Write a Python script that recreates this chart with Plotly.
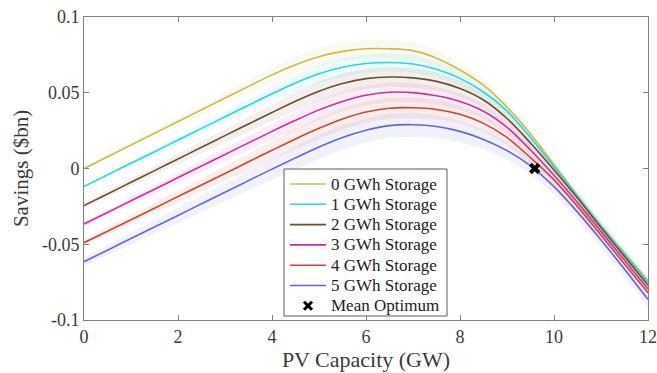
import plotly.graph_objects as go

pv_capacity = [0, 0.5, 1, 1.5, 2, 2.5, 3, 3.5, 4, 4.5, 5, 5.5, 6, 6.5, 7, 7.5, 8, 8.5, 9, 9.5, 10, 10.5, 11, 11.5, 12]

savings_0 = [0.0000, 0.0078, 0.0155, 0.0233, 0.0310, 0.0388, 0.0465, 0.0542, 0.0618, 0.0685, 0.0738, 0.0773, 0.0790,
             0.0790, 0.0778, 0.0728, 0.0650, 0.0550, 0.0405, 0.0228, 0.0025, -0.0182, -0.0380, -0.0560, -0.0740]
savings_1 = [-0.0119, -0.0042, 0.0035, 0.0111, 0.0188, 0.0265, 0.0341, 0.0418, 0.0493, 0.0565, 0.0625, 0.0668, 0.0693,
             0.0700, 0.0690, 0.0655, 0.0595, 0.0505, 0.0380, 0.0205, 0.0012, -0.0185, -0.0380, -0.0565, -0.0750]
savings_2 = [-0.0245, -0.0168, -0.0091, -0.0014, 0.0063, 0.0140, 0.0217, 0.0294, 0.0370, 0.0444, 0.0510, 0.0561, 0.0593,
             0.0604, 0.0598, 0.0575, 0.0528, 0.0452, 0.0330, 0.0168, -0.0010, -0.0195, -0.0390, -0.0580, -0.0770]
savings_3 = [-0.0366, -0.0290, -0.0213, -0.0137, -0.0060, 0.0016, 0.0093, 0.0169, 0.0245, 0.0318, 0.0387, 0.0443, 0.0483,
             0.0503, 0.0501, 0.0480, 0.0443, 0.0378, 0.0272, 0.0122, -0.0045, -0.0225, -0.0415, -0.0605, -0.0795]
savings_4 = [-0.0490, -0.0414, -0.0338, -0.0262, -0.0185, -0.0109, -0.0033, 0.0044, 0.0120, 0.0195, 0.0265, 0.0327, 0.0373,
             0.0398, 0.0401, 0.0390, 0.0358, 0.0298, 0.0205, 0.0072, -0.0075, -0.0250, -0.0440, -0.0630, -0.0820]
savings_5 = [-0.0615, -0.0539, -0.0462, -0.0386, -0.0310, -0.0233, -0.0157, -0.0080, -0.0004, 0.0070, 0.0142, 0.0205, 0.0253,
             0.0283, 0.0289, 0.0277, 0.0245, 0.0192, 0.0118, 0.0018, -0.0120, -0.0288, -0.0472, -0.0665, -0.0865]

band_0 = [0.001, 0.0015, 0.002, 0.0025, 0.003, 0.0035, 0.004, 0.0045, 0.005, 0.0055, 0.006, 0.006, 0.006,
          0.006, 0.006, 0.0055, 0.005, 0.0045, 0.004, 0.0035, 0.003, 0.003, 0.003, 0.003, 0.003]
band_1 = [0.001, 0.0015, 0.002, 0.0025, 0.003, 0.0035, 0.004, 0.0045, 0.005, 0.0055, 0.006, 0.006, 0.006,
          0.006, 0.006, 0.0055, 0.005, 0.0045, 0.004, 0.0035, 0.003, 0.003, 0.003, 0.003, 0.003]
band_2 = [0.0015, 0.002, 0.0025, 0.003, 0.0035, 0.004, 0.0045, 0.005, 0.0055, 0.006, 0.0065, 0.0065, 0.0065,
          0.0065, 0.0065, 0.006, 0.0055, 0.005, 0.0045, 0.004, 0.0035, 0.0035, 0.0035, 0.0035, 0.0035]
band_3 = [0.0015, 0.002, 0.0025, 0.003, 0.0035, 0.004, 0.0045, 0.005, 0.0055, 0.006, 0.0065, 0.0065, 0.0065,
          0.0065, 0.0065, 0.006, 0.0055, 0.005, 0.0045, 0.004, 0.0035, 0.0035, 0.0035, 0.0035, 0.0035]
band_4 = [0.002, 0.0025, 0.003, 0.0035, 0.004, 0.0045, 0.005, 0.0055, 0.006, 0.0065, 0.007, 0.007, 0.007,
          0.007, 0.007, 0.0065, 0.006, 0.0055, 0.005, 0.0045, 0.004, 0.004, 0.004, 0.004, 0.004]
band_5 = [0.003, 0.0035, 0.004, 0.0045, 0.005, 0.0055, 0.006, 0.0065, 0.007, 0.0075, 0.008, 0.008, 0.008,
          0.008, 0.008, 0.0075, 0.007, 0.0065, 0.006, 0.0055, 0.005, 0.005, 0.005, 0.005, 0.005]

series_names = ["0 GWh Storage", "1 GWh Storage", "2 GWh Storage", "3 GWh Storage", "4 GWh Storage", "5 GWh Storage"]
series_values = [savings_0, savings_1, savings_2, savings_3, savings_4, savings_5]
series_bands = [band_0, band_1, band_2, band_3, band_4, band_5]
series_colors = [(201, 186, 82), (45, 212, 218), (110, 78, 45), (200, 50, 160), (200, 72, 60), (100, 100, 222)]

optimum_name = "Mean Optimum"
optimum_x = [9.59]
optimum_y = [0.0]

x_ticks = [0, 2, 4, 6, 8, 10, 12]
y_ticks = [-0.1, -0.05, 0, 0.05, 0.1]
y_tick_labels = ["-0.1", "-0.05", "0", "0.05", "0.1"]

SERIF = "Liberation Serif"
TXT = "#3a3a3a"

# layout geometry (pixels)
W, H = 657, 373
ML, MR, MT, MB = 84, 9, 17, 53
PW, PH = W - ML - MR, H - MT - MB


def px_x(p):
    return (p - ML) / PW


def px_y(p):
    return (H - MB - p) / PH


fig = go.Figure()

for vals, band, (r, g, b) in zip(series_values, series_bands, series_colors):
    upper = [v + w for v, w in zip(vals, band)]
    lower = [v - w for v, w in zip(vals, band)]
    fig.add_trace(go.Scatter(
        x=pv_capacity + pv_capacity[::-1], y=upper + lower[::-1],
        fill="toself", fillcolor=f"rgba({r},{g},{b},0.09)",
        line=dict(width=0), mode="lines", showlegend=False, hoverinfo="skip"))

for name, vals, (r, g, b) in zip(series_names, series_values, series_colors):
    fig.add_trace(go.Scatter(
        x=pv_capacity, y=vals, mode="lines", name=name, showlegend=False,
        line=dict(color=f"rgb({r},{g},{b})", width=1.6, shape="spline", smoothing=0.8)))

fig.add_trace(go.Scatter(
    x=optimum_x, y=optimum_y, mode="markers", name=optimum_name, showlegend=False,
    marker=dict(symbol="x", size=10, color="black", line=dict(width=0))))

# hand-drawn legend box (to match the compact row spacing of the original)
box_l, box_r, box_t, box_b = 284, 447, 169, 316
row0, row_step = 184, 20.3
shapes = [dict(type="rect", xref="paper", yref="paper",
               x0=px_x(box_l), x1=px_x(box_r), y0=px_y(box_b), y1=px_y(box_t),
               fillcolor="white", line=dict(color="#5a5a5a", width=1), layer="above")]
annotations = []
labels = series_names + [optimum_name]
for i, label in enumerate(labels):
    cy = row0 + i * row_step
    if i < len(series_names):
        r, g, b = series_colors[i]
        shapes.append(dict(type="line", xref="paper", yref="paper",
                           x0=px_x(290), x1=px_x(326), y0=px_y(cy), y1=px_y(cy),
                           line=dict(color=f"rgb({r},{g},{b})", width=1.6), layer="above"))
    else:
        for dx0, dy0, dx1, dy1 in [(-4, -4, 4, 4), (-4, 4, 4, -4)]:
            shapes.append(dict(type="line", xref="paper", yref="paper",
                               x0=px_x(308 + dx0), x1=px_x(308 + dx1),
                               y0=px_y(cy + dy0), y1=px_y(cy + dy1),
                               line=dict(color="black", width=3), layer="above"))
    annotations.append(dict(xref="paper", yref="paper", x=px_x(329), y=px_y(cy),
                            xanchor="left", yanchor="middle", text=label, showarrow=False,
                            font=dict(family=SERIF, size=17, color="#222222")))

axis_common = dict(
    showline=True, linecolor="#808080", linewidth=1, mirror="ticks",
    ticks="inside", ticklen=5, tickcolor="#808080", showgrid=False, zeroline=False,
    automargin=False, ticklabeloverflow="allow",
    tickfont=dict(family=SERIF, size=18, color=TXT),
)

fig.update_xaxes(range=[0, 12], tickvals=x_ticks,
                 title=dict(text="PV Capacity (GW)", font=dict(family=SERIF, size=22, color=TXT), standoff=6),
                 **axis_common)
fig.update_yaxes(range=[-0.1, 0.1], tickvals=y_ticks, ticktext=y_tick_labels,
                 title=dict(text="Savings ($bn)", font=dict(family=SERIF, size=21, color=TXT), standoff=7),
                 **axis_common)

fig.update_layout(
    width=W, height=H,
    margin=dict(l=ML, r=MR, t=MT, b=MB),
    plot_bgcolor="white", paper_bgcolor="white",
    showlegend=False,
    shapes=shapes, annotations=annotations,
)

fig.write_html("out.html", config={"displayModeBar": False},
               post_script="document.body.style.margin='0px';document.body.style.overflow='hidden';")
